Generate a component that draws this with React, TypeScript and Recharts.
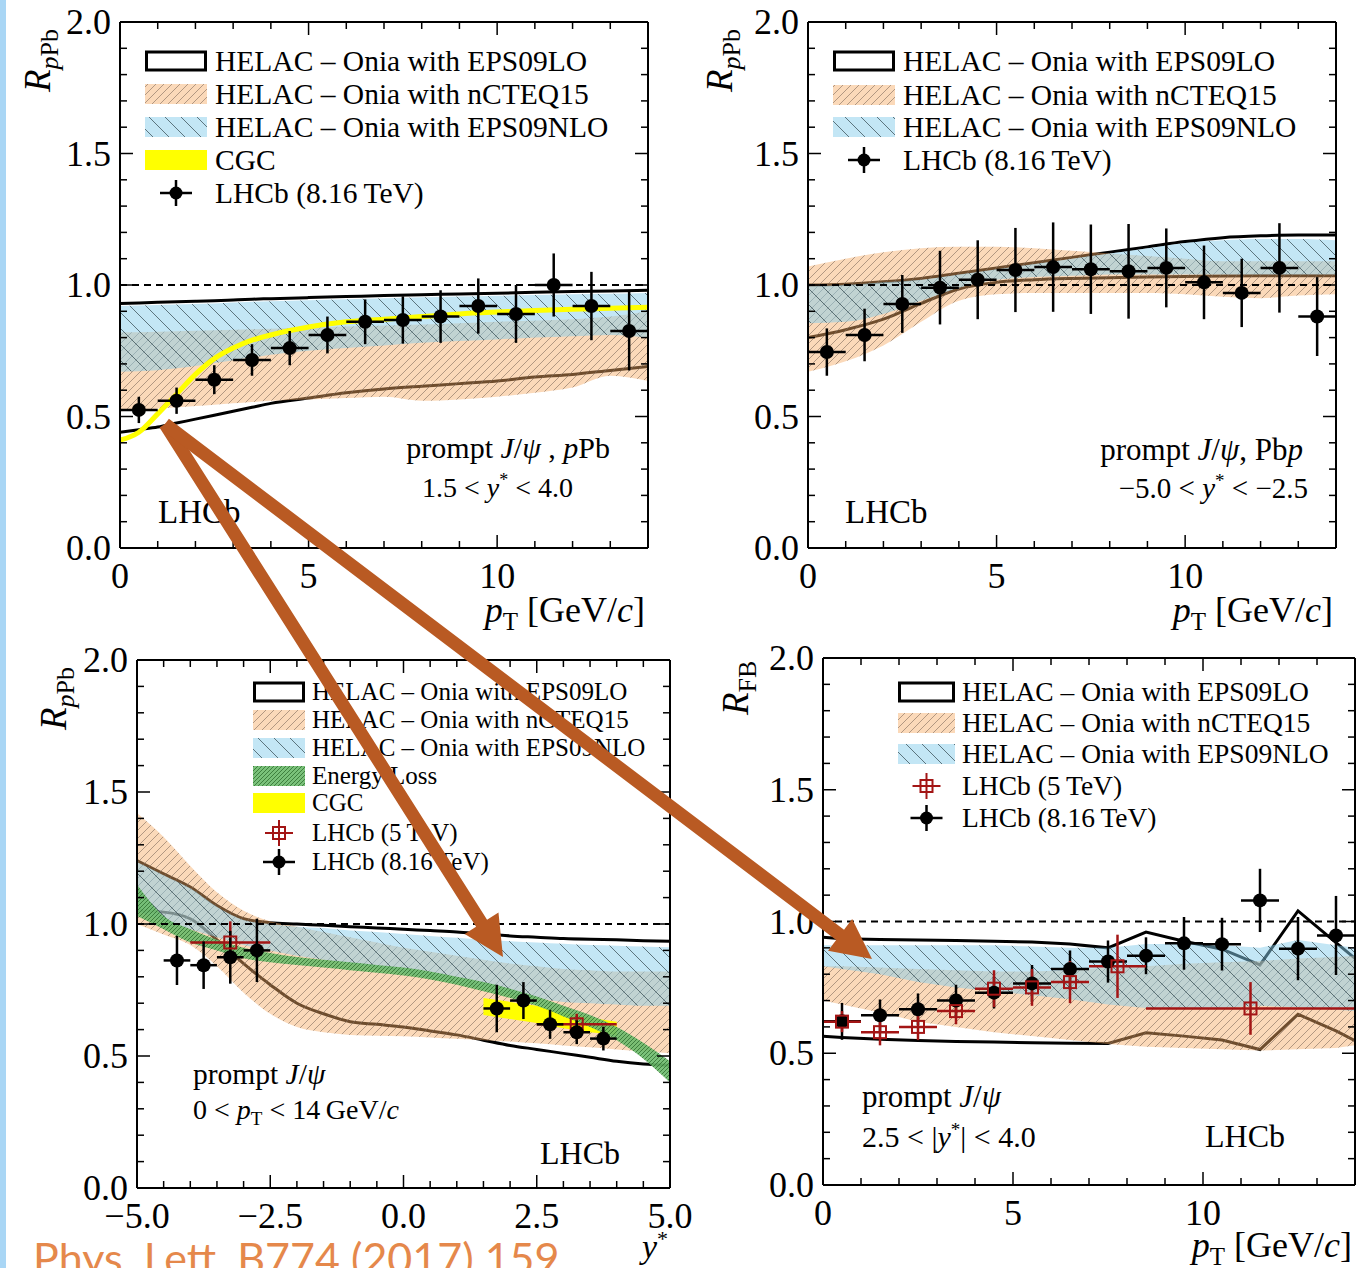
import React from "react";
import { ComposedChart, Area, Line, Scatter, ErrorBar, XAxis, YAxis, ReferenceLine } from "recharts";

const SERIF = "'Liberation Serif', 'DejaVu Serif', serif";

// axis ticks
const rTicks = [0, 0.1, 0.2, 0.3, 0.4, 0.5, 0.6, 0.7, 0.8, 0.9, 1.0, 1.1, 1.2, 1.3, 1.4, 1.5, 1.6, 1.7, 1.8, 1.9, 2.0];
const rLabels = [0, 0.5, 1.0, 1.5, 2.0];
const ptTicks = [0, 1, 2, 3, 4, 5, 6, 7, 8, 9, 10, 11, 12, 13, 14];
const ptLabels = [0, 5, 10];
const ystarTicks = [-5, -4.5, -4, -3.5, -3, -2.5, -2, -1.5, -1, -0.5, 0, 0.5, 1, 1.5, 2, 2.5, 3, 3.5, 4, 4.5, 5];
const ystarLabels = [-5, -2.5, 0, 2.5, 5];

// panel 1: pPb forward, vs pT
const p1Grid = [0, 0.5, 1, 1.5, 2, 2.5, 3, 3.5, 4, 5, 6, 7, 8, 9, 10, 11, 12, 13, 14];
const p1LoLow = [0.44, 0.45, 0.46, 0.475, 0.49, 0.505, 0.52, 0.535, 0.55, 0.57, 0.59, 0.605, 0.615, 0.625, 0.635, 0.65, 0.66, 0.675, 0.69];
const p1LoHigh = [0.93, 0.932, 0.934, 0.936, 0.938, 0.94, 0.943, 0.946, 0.948, 0.952, 0.956, 0.96, 0.963, 0.966, 0.969, 0.972, 0.975, 0.977, 0.98];
const p1NcLow = [0.52, 0.525, 0.53, 0.535, 0.54, 0.545, 0.55, 0.555, 0.56, 0.565, 0.57, 0.575, 0.56, 0.565, 0.575, 0.59, 0.61, 0.655, 0.635];
const p1NcHigh = [0.82, 0.82, 0.822, 0.824, 0.826, 0.828, 0.83, 0.832, 0.834, 0.838, 0.842, 0.846, 0.85, 0.855, 0.86, 0.865, 0.87, 0.88, 0.9];
const p1NloLow = [0.67, 0.672, 0.676, 0.683, 0.692, 0.703, 0.714, 0.725, 0.735, 0.75, 0.76, 0.77, 0.78, 0.787, 0.793, 0.8, 0.805, 0.81, 0.8];
const p1NloHigh = [0.92, 0.922, 0.924, 0.926, 0.928, 0.93, 0.933, 0.936, 0.938, 0.942, 0.946, 0.95, 0.953, 0.956, 0.959, 0.962, 0.965, 0.967, 0.97];
const p1Cgc = [0.41, 0.44, 0.51, 0.585, 0.66, 0.72, 0.76, 0.79, 0.81, 0.84, 0.86, 0.87, 0.88, 0.89, 0.897, 0.903, 0.908, 0.912, 0.915];
const p1PtX = [0.5, 1.5, 2.5, 3.5, 4.5, 5.5, 6.5, 7.5, 8.5, 9.5, 10.5, 11.5, 12.5, 13.5];
const p1PtY = [0.525, 0.56, 0.64, 0.715, 0.76, 0.81, 0.86, 0.867, 0.88, 0.92, 0.89, 1.0, 0.92, 0.825];
const p1PtErr = [0.05, 0.05, 0.055, 0.06, 0.065, 0.07, 0.085, 0.09, 0.1, 0.105, 0.11, 0.12, 0.13, 0.15];

// panel 2: Pbp backward, vs pT
const p2Grid = [0, 1, 2, 3, 4, 5, 6, 7, 8, 9, 10, 11, 12, 13, 14];
const p2LoLow = [0.8, 0.83, 0.87, 0.93, 0.985, 1.01, 1.02, 1.025, 1.028, 1.03, 1.032, 1.034, 1.035, 1.035, 1.035];
const p2LoHigh = [1.0, 1.003, 1.012, 1.025, 1.045, 1.065, 1.085, 1.105, 1.125, 1.145, 1.165, 1.18, 1.187, 1.19, 1.19];
const p2NcLow = [0.67, 0.71, 0.77, 0.86, 0.94, 0.965, 0.97, 0.97, 0.97, 0.97, 0.965, 0.955, 0.95, 0.96, 0.965];
const p2NcHigh = [1.07, 1.1, 1.125, 1.14, 1.145, 1.145, 1.14, 1.13, 1.12, 1.11, 1.1, 1.09, 1.09, 1.09, 1.09];
const p2NloLow = [0.855, 0.86, 0.89, 0.94, 0.99, 1.02, 1.03, 1.035, 1.04, 1.04, 1.04, 1.04, 1.04, 1.04, 1.04];
const p2NloHigh = [0.995, 1.0, 1.01, 1.02, 1.04, 1.06, 1.08, 1.1, 1.12, 1.14, 1.16, 1.17, 1.175, 1.175, 1.17];
const p2PtX = [0.5, 1.5, 2.5, 3.5, 4.5, 5.5, 6.5, 7.5, 8.5, 9.5, 10.5, 11.5, 12.5, 13.5];
const p2PtY = [0.745, 0.81, 0.928, 0.99, 1.02, 1.057, 1.068, 1.06, 1.052, 1.065, 1.01, 0.97, 1.065, 0.88];
const p2PtErr = [0.09, 0.1, 0.11, 0.14, 0.15, 0.16, 0.17, 0.17, 0.18, 0.15, 0.14, 0.13, 0.17, 0.15];

// panel 3: vs y*
const p3Grid = [-5, -4.5, -4, -3.5, -3, -2.5, -2, -1.5, -1, -0.5, 0, 0.5, 1, 1.5, 2, 2.5, 3, 3.5, 4, 4.5, 5];
const p3LoLow = [1.05, 1.045, 1.02, 0.94, 0.85, 0.77, 0.7, 0.66, 0.63, 0.62, 0.61, 0.595, 0.58, 0.56, 0.54, 0.525, 0.51, 0.495, 0.48, 0.47, 0.465];
const p3LoHigh = [1.24, 1.19, 1.14, 1.07, 1.02, 1.005, 1.0, 0.995, 0.99, 0.985, 0.98, 0.975, 0.97, 0.962, 0.955, 0.95, 0.945, 0.942, 0.94, 0.937, 0.935];
const p3NcLow = [1.0, 0.96, 0.92, 0.84, 0.74, 0.66, 0.61, 0.59, 0.58, 0.577, 0.575, 0.57, 0.565, 0.56, 0.555, 0.548, 0.54, 0.533, 0.525, 0.518, 0.51];
const p3NcHigh = [1.42, 1.33, 1.22, 1.12, 1.05, 1.01, 0.99, 0.97, 0.95, 0.93, 0.91, 0.895, 0.88, 0.865, 0.85, 0.84, 0.83, 0.825, 0.82, 0.82, 0.82];
const p3NloLow = [1.05, 1.01, 0.98, 0.95, 0.92, 0.9, 0.88, 0.865, 0.85, 0.835, 0.815, 0.795, 0.775, 0.755, 0.735, 0.72, 0.705, 0.7, 0.695, 0.69, 0.69];
const p3NloHigh = [1.235, 1.185, 1.135, 1.065, 1.015, 1.0, 0.99, 0.985, 0.975, 0.97, 0.962, 0.955, 0.948, 0.94, 0.935, 0.93, 0.925, 0.92, 0.918, 0.915, 0.912];
const p3ElLow = [1.03, 0.98, 0.93, 0.9, 0.87, 0.855, 0.845, 0.835, 0.825, 0.815, 0.805, 0.79, 0.77, 0.745, 0.72, 0.69, 0.65, 0.61, 0.56, 0.49, 0.4];
const p3ElHigh = [1.15, 1.03, 0.98, 0.94, 0.91, 0.89, 0.875, 0.865, 0.855, 0.845, 0.835, 0.82, 0.8, 0.78, 0.755, 0.725, 0.69, 0.655, 0.61, 0.55, 0.48];
const p3CgcLow = [null, null, null, null, null, null, null, null, null, null, null, null, null, 0.655, 0.64, 0.625, 0.605, 0.59, 0.58, null, null];
const p3CgcHigh = [null, null, null, null, null, null, null, null, null, null, null, null, null, 0.72, 0.705, 0.69, 0.665, 0.645, 0.63, null, null];
const p3Pt8X = [-4.25, -3.75, -3.25, -2.75, 1.75, 2.25, 2.75, 3.25, 3.75];
const p3Pt8Y = [0.862, 0.844, 0.874, 0.9, 0.68, 0.71, 0.62, 0.59, 0.566];
const p3Pt8Err = [0.093, 0.09, 0.1, 0.12, 0.09, 0.07, 0.055, 0.045, 0.045];
const p3Pt5X = [-3.25, 3.25];
const p3Pt5Y = [0.93, 0.62];
const p3Pt5Err = [0.08, 0.04];

// panel 4: R_FB vs pT
const p4Grid = [0, 0.5, 1.5, 2.5, 3.5, 4.5, 5.5, 6.5, 7.5, 8.5, 9.5, 10.5, 11.5, 12.5, 13.5, 14];
const p4LoLow = [0.565, 0.56, 0.553, 0.548, 0.545, 0.543, 0.54, 0.538, 0.537, 0.578, 0.565, 0.55, 0.514, 0.648, 0.585, 0.548];
const p4LoHigh = [0.94, 0.935, 0.932, 0.93, 0.928, 0.925, 0.922, 0.915, 0.9, 0.96, 0.925, 0.895, 0.835, 1.04, 0.92, 0.86];
const p4NcLow = [0.7, 0.685, 0.655, 0.62, 0.6, 0.58, 0.565, 0.55, 0.535, 0.525, 0.52, 0.515, 0.51, 0.515, 0.52, 0.53];
const p4NcHigh = [0.83, 0.83, 0.825, 0.82, 0.815, 0.81, 0.81, 0.815, 0.825, 0.83, 0.84, 0.845, 0.85, 0.86, 0.865, 0.87];
const p4NloLow = [0.83, 0.82, 0.8, 0.77, 0.75, 0.735, 0.72, 0.705, 0.685, 0.672, 0.67, 0.672, 0.68, 0.675, 0.665, 0.66];
const p4NloHigh = [0.91, 0.91, 0.91, 0.91, 0.91, 0.91, 0.905, 0.9, 0.9, 0.915, 0.915, 0.91, 0.9, 0.93, 0.91, 0.9];
const p4Pt8X = [0.5, 1.5, 2.5, 3.5, 4.5, 5.5, 6.5, 7.5, 8.5, 9.5, 10.5, 11.5, 12.5, 13.5];
const p4Pt8Y = [0.621, 0.644, 0.667, 0.7, 0.73, 0.765, 0.82, 0.848, 0.87, 0.917, 0.914, 1.08, 0.897, 0.947];
const p4Pt8Err = [0.07, 0.06, 0.06, 0.06, 0.06, 0.07, 0.07, 0.08, 0.07, 0.1, 0.1, 0.12, 0.12, 0.15];
const p4Pt5X = [0.5, 1.5, 2.5, 3.5, 4.5, 5.5, 6.5, 7.75, 11.25];
const p4Pt5Y = [0.62, 0.58, 0.6, 0.66, 0.745, 0.75, 0.77, 0.83, 0.67];
const p4Pt5Err = [0.04, 0.05, 0.05, 0.05, 0.07, 0.07, 0.08, 0.12, 0.1];
const p4Pt5XErr = [0.5, 0.5, 0.5, 0.5, 0.5, 0.5, 0.5, 0.75, 2.75];

const ORANGE_RGB = "rgb(247,170,100)";
const BLUE_RGB = "rgb(135,206,235)";
const RED = "#a31515";
const TICK_FONT = 36;

function bandRows(grid: number[], bands: Record<string, [(number | null)[], (number | null)[]]>, extra: Record<string, number[]> = {}) {
  return grid.map((x, i) => {
    const row: any = { x };
    Object.keys(bands).forEach((k) => {
      row[k] = [bands[k][0][i], bands[k][1][i]];
    });
    Object.keys(extra).forEach((k) => {
      row[k] = extra[k][i];
    });
    return row;
  });
}

function pointRows(xs: number[], ys: number[], ey: number[], ex: number[] | number) {
  return xs.map((x, i) => ({ x, y: ys[i], ey: ey[i], ex: Array.isArray(ex) ? ex[i] : ex }));
}

const fmtR = (v: number) => v.toFixed(1);
const fmtPt = (v: number) => String(v);
const fmtYs = (v: number) => v.toFixed(1).replace("-", "\u2212");

function tickRenderer(side: string, labels: number[], fmt: (v: number) => string) {
  return (props: any) => {
    const { x, y, payload } = props;
    const v = Number(payload.value);
    const major = labels.some((l) => Math.abs(l - v) < 1e-6);
    const len = major ? 13 : 7;
    let x2 = x;
    let y2 = y;
    if (side === "left") x2 = x + len;
    if (side === "right") x2 = x - len;
    if (side === "bottom") y2 = y - len;
    if (side === "top") y2 = y + len;
    let label = null;
    if (major && side === "left")
      label = (
        <text x={x - 9} y={y + 12} textAnchor="end" fontSize={TICK_FONT} fontFamily={SERIF} fill="#000">
          {fmt(v)}
        </text>
      );
    if (major && side === "bottom")
      label = (
        <text x={x} y={y + 40} textAnchor="middle" fontSize={TICK_FONT} fontFamily={SERIF} fill="#000">
          {fmt(v)}
        </text>
      );
    return (
      <g>
        <line x1={x} y1={y} x2={x2} y2={y2} stroke="#000" strokeWidth={1.5} />
        {label}
      </g>
    );
  };
}

function frame(xTicks: number[], xLabels: number[], xFmt: (v: number) => string, xDomain: [number, number]) {
  const line = { stroke: "#000", strokeWidth: 2 };
  return [
    <XAxis key="xb" dataKey="x" type="number" domain={xDomain} ticks={xTicks} interval={0} allowDataOverflow
      height={30} tickSize={0} tickMargin={0} tickLine={false} axisLine={line} tick={tickRenderer("bottom", xLabels, xFmt)} />,
    <XAxis key="xt" xAxisId="t" orientation="top" dataKey="x" type="number" domain={xDomain} ticks={xTicks} interval={0}
      allowDataOverflow height={1} tickSize={0} tickMargin={0} tickLine={false} axisLine={line} tick={tickRenderer("top", xLabels, xFmt)} />,
    <YAxis key="yl" type="number" domain={[0, 2]} ticks={rTicks} interval={0} allowDataOverflow width={40}
      tickSize={0} tickMargin={0} tickLine={false} axisLine={line} tick={tickRenderer("left", rLabels, fmtR)} />,
    <YAxis key="yr" yAxisId="r" orientation="right" type="number" domain={[0, 2]} ticks={rTicks} interval={0} allowDataOverflow
      width={1} tickSize={0} tickMargin={0} tickLine={false} axisLine={line} tick={tickRenderer("right", rLabels, fmtR)} />,
  ];
}

function patterns(id: string) {
  return (
    <defs>
      <pattern id={`${id}-nc`} patternUnits="userSpaceOnUse" width={8} height={8}>
        <rect width={8} height={8} fill={ORANGE_RGB} fillOpacity={0.45} />
        <path d="M0,8 L8,0 M-2,2 L2,-2 M6,10 L10,6" stroke="#7d6a5a" strokeWidth={0.8} strokeOpacity={0.75} />
      </pattern>
      <pattern id={`${id}-nlo`} patternUnits="userSpaceOnUse" width={16} height={16}>
        <rect width={16} height={16} fill={BLUE_RGB} fillOpacity={0.5} />
        <path d="M0,0 L16,16 M-4,12 L4,20 M12,-4 L20,4" stroke="#34474e" strokeWidth={0.9} strokeOpacity={0.8} />
      </pattern>
      <pattern id={`${id}-el`} patternUnits="userSpaceOnUse" width={4} height={4}>
        <rect width={4} height={4} fill="#6cbb6c" fillOpacity={0.9} />
        <path d="M0,4 L4,0 M-1,1 L1,-1 M3,5 L5,3" stroke="#2f6f2f" strokeWidth={0.8} />
      </pattern>
    </defs>
  );
}

function bandAreas(id: string, curve: any) {
  return [
    <Area key="lo" dataKey="lo" type={curve} stroke="#000" strokeWidth={3} fill="none" fillOpacity={0} dot={false} activeDot={false} isAnimationActive={false} />,
    <Area key="nc" dataKey="nc" type={curve} stroke="none" fill={`url(#${id}-nc)`} fillOpacity={1} dot={false} activeDot={false} isAnimationActive={false} />,
    <Area key="nlo" dataKey="nlo" type={curve} stroke="none" fill={`url(#${id}-nlo)`} fillOpacity={1} dot={false} activeDot={false} isAnimationActive={false} />,
  ];
}

const blackDot = (p: any) => <circle cx={p.cx} cy={p.cy} r={7} fill="#000" />;
const redSquare = (p: any) => <rect x={p.cx - 6} y={p.cy - 6} width={12} height={12} fill="none" stroke={RED} strokeWidth={2} />;

function points(key: string, data: any[], color: string, shape: any) {
  return (
    <Scatter key={key} data={data} dataKey="y" shape={shape} isAnimationActive={false}>
      <ErrorBar dataKey="ey" direction="y" width={0} stroke={color} strokeWidth={2.5} isAnimationActive={false} />
      <ErrorBar dataKey="ex" direction="x" width={0} stroke={color} strokeWidth={2.5} isAnimationActive={false} />
    </Scatter>
  );
}

type Entry = { kind: string; label: string };

function LegendBlock({ id, x, w, rows, textX, fontSize, entries }: { id: string; x: number; w: number; rows: number[]; textX: number; fontSize: number; entries: Entry[] }) {
  return (
    <g>
      {entries.map((e, i) => {
        const cy = rows[i];
        const cx = x + w / 2;
        let glyph: any = null;
        if (e.kind === "lo") glyph = <rect x={x + 1.5} y={cy - 9} width={w - 3} height={18} fill="#fff" stroke="#000" strokeWidth={3} />;
        if (e.kind === "nc") glyph = <rect x={x} y={cy - 10} width={w} height={20} fill={`url(#${id}-nc)`} />;
        if (e.kind === "nlo") glyph = <rect x={x} y={cy - 10} width={w} height={20} fill={`url(#${id}-nlo)`} />;
        if (e.kind === "el") glyph = <rect x={x} y={cy - 10} width={w} height={20} fill={`url(#${id}-el)`} />;
        if (e.kind === "cgc") glyph = <rect x={x} y={cy - 10} width={w} height={20} fill="#ffff00" />;
        if (e.kind === "p8")
          glyph = (
            <g stroke="#000" strokeWidth={2.5}>
              <line x1={cx - 16} y1={cy} x2={cx + 16} y2={cy} />
              <line x1={cx} y1={cy - 13} x2={cx} y2={cy + 13} />
              <circle cx={cx} cy={cy} r={6.5} fill="#000" stroke="none" />
            </g>
          );
        if (e.kind === "p5")
          glyph = (
            <g stroke={RED} strokeWidth={2}>
              <line x1={cx - 14} y1={cy} x2={cx + 14} y2={cy} />
              <line x1={cx} y1={cy - 13} x2={cx} y2={cy + 13} />
              <rect x={cx - 6} y={cy - 6} width={12} height={12} fill="none" />
            </g>
          );
        return (
          <g key={i}>
            {glyph}
            <text x={textX} y={cy + fontSize * 0.33} fontSize={fontSize} fontFamily={SERIF} fill="#000">
              {e.label}
            </text>
          </g>
        );
      })}
    </g>
  );
}

function RLabel({ x, y }: { x: number; y: number }) {
  return (
    <text transform={`translate(${x},${y}) rotate(-90)`} fontSize={37} fontFamily={SERIF} fill="#000">
      <tspan fontStyle="italic">R</tspan>
      <tspan dy={8} fontSize={26} fontStyle="italic">p</tspan>
      <tspan fontSize={26}>Pb</tspan>
    </text>
  );
}

function PtTitle({ x, y }: { x: number; y: number }) {
  return (
    <text x={x} y={y} textAnchor="end" fontSize={36} fontFamily={SERIF} fill="#000">
      <tspan fontStyle="italic">p</tspan>
      <tspan dy={8} fontSize={25}>T</tspan>
      <tspan dy={-8}> [GeV/</tspan>
      <tspan fontStyle="italic">c</tspan>
      <tspan>]</tspan>
    </text>
  );
}

const HELAC = "HELAC \u2013 Onia with ";
const mainEntries: Entry[] = [
  { kind: "lo", label: HELAC + "EPS09LO" },
  { kind: "nc", label: HELAC + "nCTEQ15" },
  { kind: "nlo", label: HELAC + "EPS09NLO" },
];

function margins(W: number, H: number, x0: number, x1: number, y0: number, y1: number) {
  return { left: x0 - 40, right: W - x1 - 1, top: y0 - 1, bottom: H - y1 - 30 };
}

function Panel1() {
  const rows = bandRows(p1Grid, { lo: [p1LoLow, p1LoHigh], nc: [p1NcLow, p1NcHigh], nlo: [p1NloLow, p1NloHigh] }, { cgc: p1Cgc });
  const pts = pointRows(p1PtX, p1PtY, p1PtErr, 0.5);
  const W = 680, H = 640;
  return (
    <ComposedChart width={W} height={H} data={rows} margin={margins(W, H, 120, 648, 22, 548)}>
      {patterns("p1")}
      {frame(ptTicks, ptLabels, fmtPt, [0, 14])}
      {bandAreas("p1", "monotone")}
      <Line dataKey="cgc" type="monotone" stroke="#ffff00" strokeWidth={5} dot={false} activeDot={false} isAnimationActive={false} />
      <ReferenceLine y={1} stroke="#000" strokeWidth={2} strokeDasharray="7 5" />
      {points("p8", pts, "#000", blackDot)}
      <LegendBlock id="p1" x={145} w={62} rows={[61, 94, 127, 160, 193]} textX={215} fontSize={29.5}
        entries={[...mainEntries, { kind: "cgc", label: "CGC" }, { kind: "p8", label: "LHCb (8.16\u2009TeV)" }]} />
      <text x={610} y={458} textAnchor="end" fontSize={30} fontFamily={SERIF}>
        prompt <tspan fontStyle="italic">J</tspan>/<tspan fontStyle="italic">ψ</tspan> , <tspan fontStyle="italic">p</tspan>Pb
      </text>
      <text x={422} y={497} fontSize={28} fontFamily={SERIF}>
        1.5 {"<"} <tspan fontStyle="italic">y</tspan><tspan dy={-11} fontSize={18}>*</tspan><tspan dy={11}> {"<"} 4.0</tspan>
      </text>
      <text x={158} y={523} fontSize={33} fontFamily={SERIF}>LHCb</text>
      <RLabel x={50} y={92} />
      <PtTitle x={645} y={622} />
    </ComposedChart>
  );
}

function Panel2() {
  const rows = bandRows(p2Grid, { lo: [p2LoLow, p2LoHigh], nc: [p2NcLow, p2NcHigh], nlo: [p2NloLow, p2NloHigh] });
  const pts = pointRows(p2PtX, p2PtY, p2PtErr, 0.5);
  const W = 678, H = 640;
  return (
    <ComposedChart width={W} height={H} data={rows} margin={margins(W, H, 128, 656, 22, 548)}>
      {patterns("p2")}
      {frame(ptTicks, ptLabels, fmtPt, [0, 14])}
      {bandAreas("p2", "monotone")}
      <ReferenceLine y={1} stroke="#000" strokeWidth={2} strokeDasharray="7 5" />
      {points("p8", pts, "#000", blackDot)}
      <LegendBlock id="p2" x={153} w={62} rows={[61, 95, 127, 160]} textX={223} fontSize={29.5}
        entries={[...mainEntries, { kind: "p8", label: "LHCb (8.16\u2009TeV)" }]} />
      <text x={623} y={460} textAnchor="end" fontSize={31} fontFamily={SERIF}>
        prompt <tspan fontStyle="italic">J</tspan>/<tspan fontStyle="italic">ψ</tspan>, Pb<tspan fontStyle="italic">p</tspan>
      </text>
      <text x={628} y={498} textAnchor="end" fontSize={29} fontFamily={SERIF}>
        {"\u22125.0 < "}<tspan fontStyle="italic">y</tspan><tspan dy={-11} fontSize={19}>*</tspan><tspan dy={11}>{" < \u22122.5"}</tspan>
      </text>
      <text x={165} y={523} fontSize={33} fontFamily={SERIF}>LHCb</text>
      <RLabel x={52} y={92} />
      <PtTitle x={653} y={622} />
    </ComposedChart>
  );
}

function Panel3() {
  const rows = bandRows(p3Grid, {
    lo: [p3LoLow, p3LoHigh], nc: [p3NcLow, p3NcHigh], nlo: [p3NloLow, p3NloHigh], el: [p3ElLow, p3ElHigh], cgc: [p3CgcLow, p3CgcHigh],
  });
  const pts8 = pointRows(p3Pt8X, p3Pt8Y, p3Pt8Err, 0.25);
  const pts5 = pointRows(p3Pt5X, p3Pt5Y, p3Pt5Err, 0.75);
  const W = 705, H = 628;
  return (
    <ComposedChart width={W} height={H} data={rows} margin={margins(W, H, 137, 670, 20, 548)}>
      {patterns("p3")}
      {frame(ystarTicks, ystarLabels, fmtYs, [-5, 5])}
      {bandAreas("p3", "monotone")}
      <Area dataKey="cgc" type="linear" stroke="none" fill="#ffff00" fillOpacity={1} dot={false} activeDot={false} isAnimationActive={false} />
      <Area dataKey="el" type="monotone" stroke="none" fill="url(#p3-el)" fillOpacity={1} dot={false} activeDot={false} isAnimationActive={false} />
      <ReferenceLine y={1} stroke="#000" strokeWidth={2} strokeDasharray="7 5" />
      {points("p5", pts5, RED, redSquare)}
      {points("p8", pts8, "#000", blackDot)}
      <LegendBlock id="p3" x={253} w={52} rows={[52, 80, 108, 136, 163, 193, 222]} textX={312} fontSize={25}
        entries={[...mainEntries, { kind: "el", label: "Energy Loss" }, { kind: "cgc", label: "CGC" },
          { kind: "p5", label: "LHCb  (5\u2009TeV)" }, { kind: "p8", label: "LHCb  (8.16\u2009TeV)" }]} />
      <text x={193} y={444} fontSize={29.5} fontFamily={SERIF}>
        prompt <tspan fontStyle="italic">J</tspan>/<tspan fontStyle="italic">ψ</tspan>
      </text>
      <text x={193} y={479} fontSize={28} fontFamily={SERIF}>
        {"0 < "}<tspan fontStyle="italic">p</tspan><tspan dy={6} fontSize={19}>T</tspan><tspan dy={-6}>{" < 14\u2009GeV/"}</tspan><tspan fontStyle="italic">c</tspan>
      </text>
      <text x={540} y={524} fontSize={32} fontFamily={SERIF}>LHCb</text>
      <RLabel x={66} y={90} />
      <text x={668} y={618} textAnchor="end" fontSize={34} fontFamily={SERIF}>
        <tspan fontStyle="italic">y</tspan><tspan dy={-12} fontSize={22}>*</tspan>
      </text>
    </ComposedChart>
  );
}

function Panel4() {
  const rows = bandRows(p4Grid, { lo: [p4LoLow, p4LoHigh], nc: [p4NcLow, p4NcHigh], nlo: [p4NloLow, p4NloHigh] });
  const pts8 = pointRows(p4Pt8X, p4Pt8Y, p4Pt8Err, 0.5);
  const pts5 = pointRows(p4Pt5X, p4Pt5Y, p4Pt5Err, p4Pt5XErr);
  const W = 668, H = 628;
  return (
    <ComposedChart width={W} height={H} data={rows} margin={margins(W, H, 133, 665, 18, 545)}>
      {patterns("p4")}
      {frame(ptTicks, ptLabels, fmtPt, [0, 14])}
      {bandAreas("p4", "linear")}
      <ReferenceLine y={1} stroke="#000" strokeWidth={2} strokeDasharray="7 5" />
      {points("p8", pts8, "#000", blackDot)}
      {points("p5", pts5, RED, redSquare)}
      <LegendBlock id="p4" x={208} w={57} rows={[52, 83, 114, 146, 178]} textX={272} fontSize={27.5}
        entries={[...mainEntries, { kind: "p5", label: "LHCb  (5\u2009TeV)" }, { kind: "p8", label: "LHCb  (8.16\u2009TeV)" }]} />
      <text x={172} y={467} fontSize={31} fontFamily={SERIF}>
        prompt <tspan fontStyle="italic">J</tspan>/<tspan fontStyle="italic">ψ</tspan>
      </text>
      <text x={172} y={507} fontSize={30} fontFamily={SERIF}>
        {"2.5 < |"}<tspan fontStyle="italic">y</tspan><tspan dy={-11} fontSize={19}>*</tspan><tspan dy={11}>{"| < 4.0"}</tspan>
      </text>
      <text x={515} y={507} fontSize={32} fontFamily={SERIF}>LHCb</text>
      <text transform="translate(58,75) rotate(-90)" fontSize={37} fontFamily={SERIF}>
        <tspan fontStyle="italic">R</tspan><tspan dy={8} fontSize={26}>FB</tspan>
      </text>
      <PtTitle x={662} y={617} />
    </ComposedChart>
  );
}

function arrowPoints(x1: number, y1: number, x2: number, y2: number) {
  const d = Math.hypot(x2 - x1, y2 - y1);
  const ux = (x2 - x1) / d, uy = (y2 - y1) / d;
  const nx = -uy, ny = ux;
  const w = 6.5, L = 40, hw = 20;
  const bx = x2 - ux * L, by = y2 - uy * L;
  const pts = [
    [x1 + nx * w, y1 + ny * w], [bx + nx * w, by + ny * w], [bx + nx * hw, by + ny * hw], [x2, y2],
    [bx - nx * hw, by - ny * hw], [bx - nx * w, by - ny * w], [x1 - nx * w, y1 - ny * w],
  ];
  return pts.map((p) => p.join(",")).join(" ");
}

export default function App() {
  return (
    <div style={{ position: "absolute", left: 0, top: 0, width: 1358, height: 1268, background: "#fff", overflow: "hidden" }}>
      <div style={{ position: "absolute", left: 0, top: 0 }}><Panel1 /></div>
      <div style={{ position: "absolute", left: 680, top: 0 }}><Panel2 /></div>
      <div style={{ position: "absolute", left: 690, top: 640 }}><Panel4 /></div>
      <div style={{ position: "absolute", left: 0, top: 640 }}><Panel3 /></div>
      <svg width={1358} height={1268} style={{ position: "absolute", left: 0, top: 0, pointerEvents: "none" }}>
        <rect x={0} y={0} width={6} height={1268} fill="#a9d6f5" />
        <polygon points={arrowPoints(165, 424, 503, 957)} fill="#b95a23" />
        <polygon points={arrowPoints(165, 424, 872, 959)} fill="#b95a23" />
        <text x={33} y={1274} fontSize={43} fontFamily="Lato, 'Open Sans', sans-serif" fill="#e5884b">
          Phys. Lett. B774 (2017) 159
        </text>
      </svg>
    </div>
  );
}
